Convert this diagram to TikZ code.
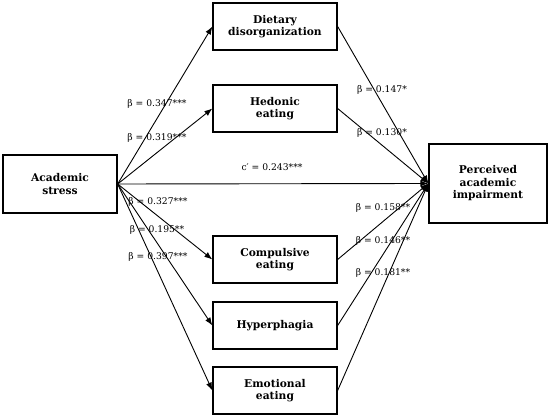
\documentclass[tikz,border=0pt]{standalone}
\usepackage{fontspec}
\setmainfont{DejaVu Serif}
\usetikzlibrary{arrows.meta}
\begin{document}
\begin{tikzpicture}[x=1pt,y=-1pt,
  box/.style={draw,line width=1.3pt,align=center,font=\bfseries\fontsize{10.7}{12.5}\selectfont,inner sep=0pt},
  med/.style={box,minimum width=124pt,minimum height=47pt},
  arr/.style={line width=0.9pt,-{Latex[length=8pt,width=6pt]}},
  lbl/.style={font=\fontsize{9.2}{10}\selectfont,inner sep=0pt}]
\useasboundingbox (0,0) rectangle (550,419);
\node[box,minimum width=114pt,minimum height=58pt] (as) at (60,184) {Academic\\stress};
\node[box,minimum width=118pt,minimum height=79pt] (pai) at (488,183.5) {Perceived\\academic\\impairment};
\node[med] (dd) at (275,26.5) {Dietary\\disorganization};
\node[med] (he) at (275,108.5) {Hedonic\\eating};
\node[med] (ce) at (275,259.5) {Compulsive\\eating};
\node[med] (hy) at (275,325.5) {Hyperphagia};
\node[med] (ee) at (275,390.5) {Emotional\\eating};
\foreach \m in {dd,he,ce,hy,ee}{
  \draw[arr] (as.east) -- (\m.west);
  \draw[arr] (\m.east) -- (pai.west);
}
\draw[arr] (as.east) -- (pai.west);
\node[lbl] (l1) at (157,104) {β = 0.347***};
\node[lbl] (l2) at (157,138) {β = 0.319***};
\node[lbl] (l3) at (272,167) {c′ = 0.243***};
\node[lbl] (l4) at (158,202) {β = 0.327***};
\node[lbl] (l5) at (157,230) {β = 0.195**};
\node[lbl] (l6) at (158,257) {β = 0.397***};
\node[lbl] (r1) at (382,90) {β = 0.147*};
\node[lbl] (r2) at (382,133) {β = 0.130*};
\node[lbl] (r3) at (383,208) {β = 0.158**};
\node[lbl] (r4) at (383,241) {β = 0.146**};
\node[lbl] (r5) at (383,273) {β = 0.181**};
\end{tikzpicture}
\end{document}
